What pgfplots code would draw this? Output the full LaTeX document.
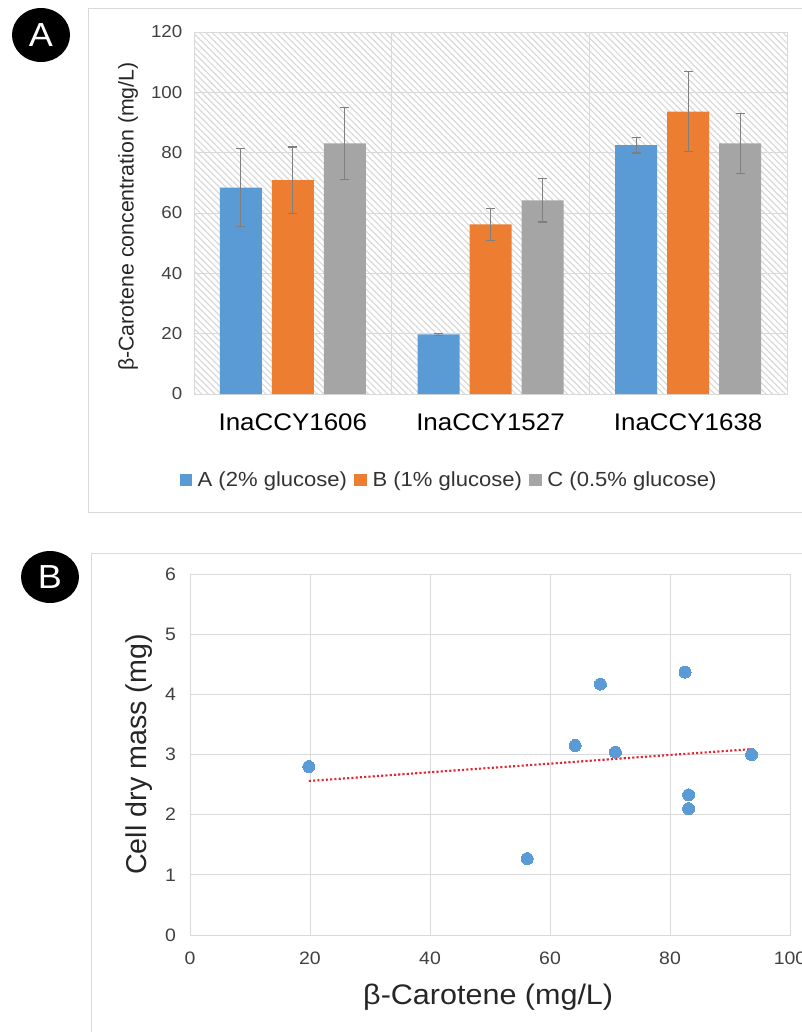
\documentclass[border=0pt]{standalone}
\usepackage{pgfplots}
\pgfplotsset{compat=1.18}
\usepackage{fontspec}
\setmainfont{Liberation Sans}[FakeStretch=1.08]
\newfontfamily\plainfont{Liberation Sans}
\usetikzlibrary{patterns.meta}
\definecolor{cblue}{HTML}{5B9BD5}
\definecolor{corange}{HTML}{ED7D31}
\definecolor{cgray}{HTML}{A5A5A5}
\definecolor{gridc}{HTML}{D9D9D9}
\definecolor{errc}{HTML}{7F7F7F}
\definecolor{trend}{RGB}{226,38,52}
\definecolor{ticktxt}{HTML}{404040}
\begin{document}
\begin{tikzpicture}
\useasboundingbox (0,0) rectangle (601.5pt,-774pt);
% chart frames
\draw[gridc, line width=0.75pt] (620pt,-6pt) -- (66pt,-6pt) -- (66pt,-384pt) -- (620pt,-384pt);
\draw[gridc, line width=0.75pt] (620pt,-414.75pt) -- (68.25pt,-414.75pt) -- (68.25pt,-790pt);
% panel badges
\fill[black] (30.75pt,-26.25pt) ellipse [x radius=21.75pt, y radius=20.25pt];
\node[white, font=\fontsize{25pt}{28pt}\selectfont] at (30.75pt,-26.25pt) {A};
\fill[black] (37.5pt,-432.75pt) ellipse [x radius=21.75pt, y radius=19.5pt];
\node[white, font=\fontsize{25pt}{28pt}\selectfont] at (37.5pt,-432.75pt) {B};

% ---------- Panel A ----------
\begin{axis}[
  at={(145.5pt,-295.5pt)}, anchor=south west,
  scale only axis, width=444.75pt, height=271.5pt,
  ybar=7.5pt, bar width=31.5pt,
  xmin=-0.5, xmax=2.5, ymin=0, ymax=120,
  xtick={0,1,2}, xticklabels={InaCCY1606,InaCCY1527,InaCCY1638},
  minor xtick={0.5,1.5}, xminorgrids=true,
  ytick={0,20,40,60,80,100,120}, ymajorgrids=true,
  major tick length=0pt, minor tick length=0pt,
  grid style={gridc, line width=0.75pt},
  minor grid style={gridc, line width=0.75pt},
  axis line style={gridc, line width=0.75pt},
  axis background/.style={fill=white, postaction={pattern={Lines[angle=-45,distance=3.4pt,line width=0.9pt]}, pattern color=black!15}},
  /pgf/number format/assume math mode=true,
  yticklabel style={font=\fontsize{13pt}{15pt}\selectfont, text=ticktxt, xshift=-5.25pt},
  xticklabel style={font=\fontsize{18pt}{21pt}\selectfont, text=black, yshift=-11.5pt},
  ylabel={\plainfont β-Carotene concentration (mg/L)},
  ylabel style={font=\fontsize{16pt}{18pt}\selectfont, text=black!85, at={(axis description cs:-0.1113,0.49)}, anchor=center},
  legend columns=3,
  legend style={at={(axis description cs:0.430,-0.2376)}, anchor=center, draw=none, fill=none,
    font=\fontsize{15.3pt}{18pt}\selectfont, text=black!80,
    nodes={inner sep=1.5pt},
    /tikz/column 1/.style={column sep=2.5pt},
    /tikz/column 3/.style={column sep=2.5pt},
    /tikz/column 5/.style={column sep=2.5pt},
    /tikz/column 2/.style={column sep=4pt},
    /tikz/column 4/.style={column sep=4pt}},
  legend image code/.code={\fill[#1] (0pt,-4.8pt) rectangle (9.6pt,4.8pt);},
]
\addplot[fill=cblue, draw=none,
  error bars/.cd, y dir=both, y explicit,
  error bar style={draw=errc, line width=0.9pt},
  error mark options={draw=errc, rotate=90, mark size=3.4pt, line width=0.9pt}]
  coordinates {(0,68.4) +- (0,13.0) (1,19.8) +- (0,0.3) (2,82.5) +- (0,2.6)};
\addplot[fill=corange, draw=none,
  error bars/.cd, y dir=both, y explicit,
  error bar style={draw=errc, line width=0.9pt},
  error mark options={draw=errc, rotate=90, mark size=3.4pt, line width=0.9pt}]
  coordinates {(0,70.9) +- (0,11.0) (1,56.2) +- (0,5.2) (2,93.6) +- (0,13.2)};
\addplot[fill=cgray, draw=none,
  error bars/.cd, y dir=both, y explicit,
  error bar style={draw=errc, line width=0.9pt},
  error mark options={draw=errc, rotate=90, mark size=3.4pt, line width=0.9pt}]
  coordinates {(0,83.1) +- (0,12.0) (1,64.2) +- (0,7.2) (2,83.1) +- (0,10.0)};
\legend{A (2\% glucose),B (1\% glucose),C (0.5\% glucose)}
\end{axis}

% ---------- Panel B ----------
\begin{axis}[
  at={(142.5pt,-701.25pt)}, anchor=south west,
  scale only axis, width=450pt, height=270.75pt,
  xmin=0, xmax=100, ymin=0, ymax=6,
  xtick={0,20,40,60,80,100}, ytick={0,1,2,3,4,5,6},
  grid=major, major tick length=0pt,
  grid style={gridc, line width=0.75pt},
  axis line style={gridc, line width=0.75pt},
  /pgf/number format/assume math mode=true,
  yticklabel style={font=\fontsize{13.5pt}{16pt}\selectfont, text=ticktxt, xshift=-7pt},
  xticklabel style={font=\fontsize{13.5pt}{16pt}\selectfont, text=ticktxt, yshift=-9pt},
  xlabel={β-Carotene (mg/L)},
  xlabel style={font=\fontsize{21.2pt}{25pt}\selectfont, text=black!85, at={(axis description cs:0.497,-0.172)}, anchor=center},
  ylabel={\plainfont Cell dry mass (mg)},
  ylabel style={font=\fontsize{21.5pt}{25pt}\selectfont, text=black!85, at={(axis description cs:-0.085,0.5)}, anchor=center},
]
\addplot[cblue, only marks, mark=*, mark size=4.5pt, mark options={fill=cblue, draw=cblue, line width=0pt}]
  coordinates {(19.8,2.80) (56.2,1.27) (64.2,3.15) (68.4,4.17) (70.9,3.04) (82.5,4.37) (83.1,2.33) (83.1,2.10) (93.6,3.00)};
\addplot[trend, line width=1.6pt, dash pattern=on 1.6pt off 1.6pt, no marks]
  coordinates {(19.8,2.56) (93.6,3.09)};
\end{axis}
\end{tikzpicture}
\end{document}
